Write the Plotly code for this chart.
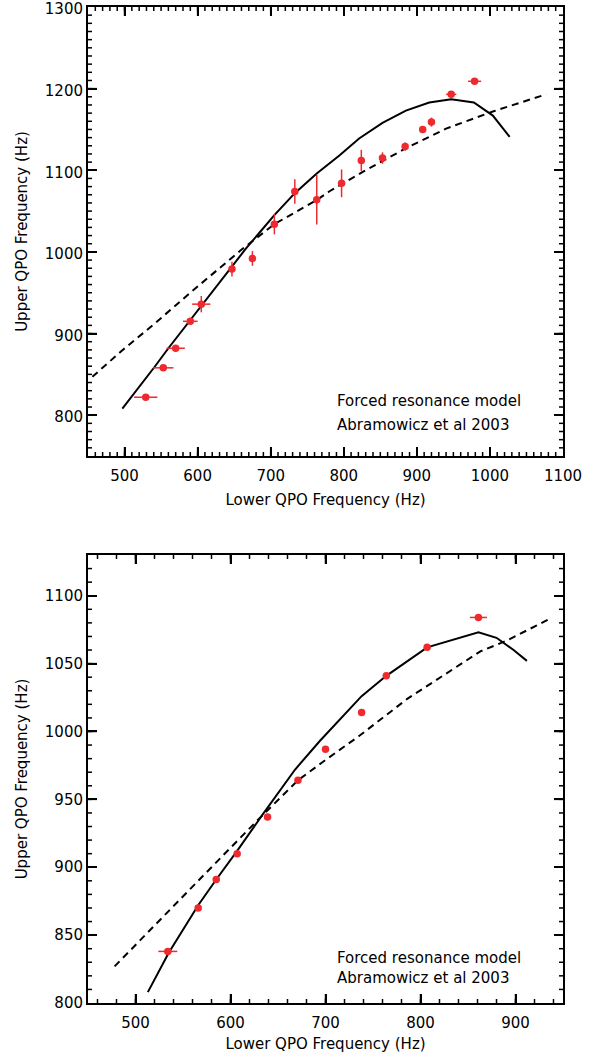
import plotly.graph_objects as go

# ---------------- Top panel data ----------------
top_obs_x = [529, 553, 570, 590, 605, 647, 675, 705, 733, 763, 797, 824, 853, 884, 908, 920, 947, 979]
top_obs_y = [822, 858, 882, 915, 936, 979, 992, 1034, 1074, 1064, 1084, 1112, 1115, 1129, 1150, 1159, 1193, 1209]
top_obs_xerr = [16, 14, 12.5, 10, 12.5, 0, 0, 0, 0, 0, 0, 0, 0, 0, 0, 0, 7, 9]
top_obs_yerr = [0, 0, 0, 0, 10, 9, 9, 12.5, 15, 30.5, 17, 13, 7, 5, 0, 5.5, 0, 0]

top_solid_x = [497, 520, 541, 560, 586, 606, 625, 646, 666, 686, 705, 733, 763, 794, 821, 853, 885, 917, 947, 978, 1004, 1027]
top_solid_y = [808, 834, 859, 882, 912, 936, 958, 981, 1004, 1025, 1045, 1072, 1096, 1118, 1139, 1158, 1173, 1183, 1187, 1183, 1167, 1141]

top_dash_x = [456, 495, 541, 586, 659, 705, 764, 780, 826, 885, 940, 1004, 1077]
top_dash_y = [847, 878, 912, 947, 1002, 1034, 1064, 1074, 1098, 1127, 1151, 1172, 1193]

# ---------------- Bottom panel data ----------------
bot_obs_x = [534, 566, 585, 607, 639, 671, 700, 738, 764, 807, 861]
bot_obs_y = [838, 870, 891, 910, 937, 964, 987, 1014, 1041, 1062, 1084]
bot_obs_xerr = [10, 0, 0, 0, 0, 0, 0, 0, 0, 0, 9]

bot_solid_x = [513, 535, 566, 585, 607, 633, 668, 694, 738, 764, 807, 861, 880, 898, 912]
bot_solid_y = [808, 837, 872, 891, 912, 938, 972, 993, 1026, 1041, 1062, 1073, 1069, 1060, 1052]

bot_dash_x = [478, 521, 566, 629, 671, 696, 736, 786, 863, 891, 936]
bot_dash_y = [827, 858, 890, 935, 964, 977, 997, 1024, 1059, 1067, 1083]

top_xticks = [500, 600, 700, 800, 900, 1000, 1100]
top_yticks = [800, 900, 1000, 1100, 1200, 1300]
bot_xticks = [500, 600, 700, 800, 900]
bot_yticks = [800, 850, 900, 950, 1000, 1050, 1100]

annot_lines = ["Forced resonance model", "Abramowicz et al 2003"]
x_title = "Lower QPO Frequency (Hz)"
y_title = "Upper QPO Frequency (Hz)"

RED = "#ee2a2e"
FONT = "DejaVu Sans"
FS = 15

W, H = 597, 1053
ML, MR, MT, MB = 88, 34, 7, 50
TOP_DOM = [0.5492, 1.0]
BOT_DOM = [0.0, 0.4498]
TOP_XR, TOP_YR = [450, 1100], [750, 1300]
BOT_XR, BOT_YR = [450, 950], [800, 1130]
TOP_MINOR = (10, 10)   # minor tick step (x, y)
BOT_MINOR = (20, 10)

fig = go.Figure()

def add_panel(xa, ya, ox, oy, xerr, yerr, sx, sy, dx, dy):
    fig.add_trace(go.Scatter(x=dx, y=dy, mode="lines", xaxis=xa, yaxis=ya,
                             line=dict(color="black", width=2, dash="7px,5px"),
                             showlegend=False, hoverinfo="skip"))
    fig.add_trace(go.Scatter(x=sx, y=sy, mode="lines", xaxis=xa, yaxis=ya,
                             line=dict(color="black", width=2),
                             showlegend=False, hoverinfo="skip"))
    ex = dict(type="data", array=xerr, color=RED, thickness=1.5, width=0, visible=True)
    ey = dict(type="data", array=yerr, color=RED, thickness=1.5, width=0, visible=True) if yerr is not None else None
    fig.add_trace(go.Scatter(x=ox, y=oy, mode="markers", xaxis=xa, yaxis=ya,
                             marker=dict(color=RED, size=7.5),
                             error_x=ex, error_y=ey, showlegend=False))

add_panel("x", "y", top_obs_x, top_obs_y, top_obs_xerr, top_obs_yerr,
          top_solid_x, top_solid_y, top_dash_x, top_dash_y)
add_panel("x2", "y2", bot_obs_x, bot_obs_y, bot_obs_xerr, None,
          bot_solid_x, bot_solid_y, bot_dash_x, bot_dash_y)

# Inside tick marks on all four sides, drawn as short line segments (one trace, gaps between).
PLOT_W = W - ML - MR
PLOT_H = H - MT - MB

def tick_vals(rng, step):
    start = int(rng[0] // step + 1) * step
    return list(range(start, int(rng[1]), step))

def add_ticks(xa, ya, xr, yr, dom, xstep, ystep, length_px):
    px_x = PLOT_W / (xr[1] - xr[0])
    px_y = PLOT_H * (dom[1] - dom[0]) / (yr[1] - yr[0])
    ly = length_px / px_y
    lx = length_px / px_x
    tx, ty = [], []
    for v in tick_vals(xr, xstep):
        tx += [v, v, None, v, v, None]
        ty += [yr[0], yr[0] + ly, None, yr[1], yr[1] - ly, None]
    for v in tick_vals(yr, ystep):
        tx += [xr[0], xr[0] + lx, None, xr[1], xr[1] - lx, None]
        ty += [v, v, None, v, v, None]
    fig.add_trace(go.Scatter(x=tx, y=ty, mode="lines", xaxis=xa, yaxis=ya,
                             line=dict(color="black", width=1.5),
                             connectgaps=False, showlegend=False, hoverinfo="skip"))

add_ticks("x", "y", TOP_XR, TOP_YR, TOP_DOM, TOP_MINOR[0], TOP_MINOR[1], 4)
add_ticks("x", "y", TOP_XR, TOP_YR, TOP_DOM, top_xticks[1] - top_xticks[0], top_yticks[1] - top_yticks[0], 9)
add_ticks("x2", "y2", BOT_XR, BOT_YR, BOT_DOM, BOT_MINOR[0], BOT_MINOR[1], 4)
add_ticks("x2", "y2", BOT_XR, BOT_YR, BOT_DOM, bot_xticks[1] - bot_xticks[0], bot_yticks[1] - bot_yticks[0], 9)

def axis_style(rng, tickvals, domain, anchor, title, standoff, labelstandoff, shift=0):
    return dict(
        range=rng, domain=domain, anchor=anchor, automargin=False,
        tickmode="linear", tick0=tickvals[0], dtick=tickvals[1] - tickvals[0],
        ticks="inside", ticklen=9, tickwidth=1.5, tickcolor="black",
        showline=True, linecolor="black", linewidth=2, mirror="ticks",
        showgrid=False, zeroline=False, ticklabeloverflow="allow",
        tickfont=dict(family=FONT, size=FS, color="black"),
        title=dict(text=title, font=dict(family=FONT, size=FS, color="black"), standoff=standoff),
        ticklabelstandoff=labelstandoff, ticklabelshift=shift,
    )

fig.update_layout(
    width=W, height=H,
    margin=dict(l=ML, r=MR, t=MT, b=MB),
    paper_bgcolor="white", plot_bgcolor="white",
    xaxis=axis_style(TOP_XR, top_xticks, [0, 1], "y", x_title, 11, 5),
    yaxis=axis_style(TOP_YR, top_yticks, TOP_DOM, "x", y_title, 14, 0, 2),
    xaxis2=axis_style(BOT_XR, bot_xticks, [0, 1], "y2", x_title, 11, 5),
    yaxis2=axis_style(BOT_YR, bot_yticks, BOT_DOM, "x2", y_title, 14, 0, 0),
)

annos = []
for ref_x, ref_y, ys in (("x domain", "y domain", (0.123, 0.069)), ("x2 domain", "y2 domain", (0.10, 0.055))):
    for text, yy in zip(annot_lines, ys):
        annos.append(dict(text=text, xref=ref_x, yref=ref_y, x=0.52, y=yy,
                          xanchor="left", yanchor="middle", showarrow=False,
                          font=dict(family=FONT, size=FS, color="black")))
fig.update_layout(annotations=annos)

fig.write_html("out.html", config={"displayModeBar": False},
               post_script="document.body.style.margin='0px';")
